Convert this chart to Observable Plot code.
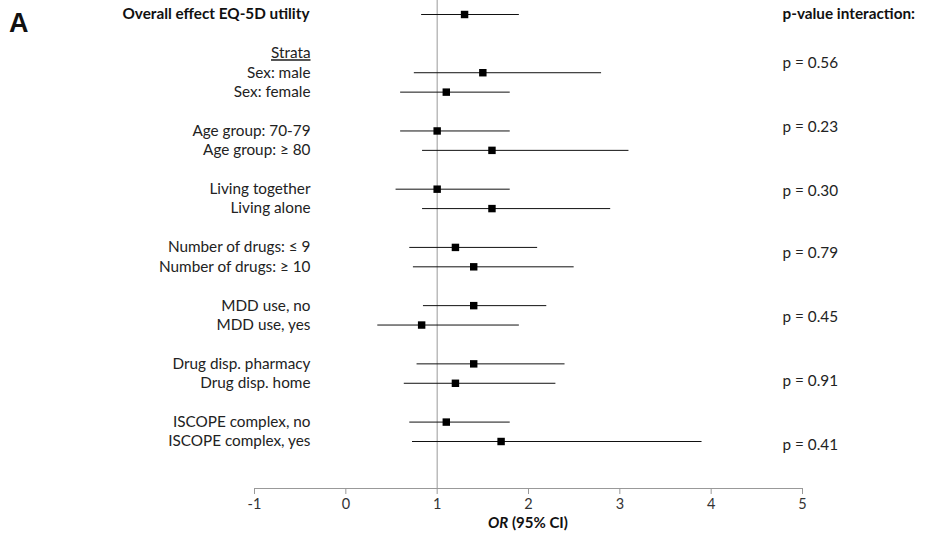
<!DOCTYPE html>
<html><head><meta charset="utf-8">
<script src="https://cdn.jsdelivr.net/npm/d3@7"></script>
<script src="https://cdn.jsdelivr.net/npm/@observablehq/plot@0.6"></script>
<style>
body{margin:0;background:#fff;}
#wrap{position:relative;width:934px;height:536px;}
#A{position:absolute;left:9px;top:8px;font:bold 27px "Liberation Sans",Arial,sans-serif;color:#111;}
</style>
</head><body><div id="wrap"><div id="A">A</div></div>
<script>
const labels = ["Overall effect EQ-5D utility","Strata","Sex: male","Sex: female","Age group: 70-79","Age group: \u2265 80","Living together","Living alone","Number of drugs: \u2264 9","Number of drugs: \u2265 10","MDD use, no","MDD use, yes","Drug disp. pharmacy","Drug disp. home","ISCOPE complex, no","ISCOPE complex, yes"];
const rowPos = [0,2,3,4,6,7,9,10,12,13,15,16,18,19,21,22];
const orValues = [1.3,null,1.5,1.1,1.0,1.6,1.0,1.6,1.2,1.4,1.4,0.83,1.4,1.2,1.1,1.7];
const ciLow = [0.83,null,0.75,0.6,0.6,0.84,0.55,0.84,0.7,0.74,0.85,0.35,0.78,0.64,0.7,0.73];
const ciHigh = [1.9,null,2.8,1.8,1.8,3.1,1.8,2.9,2.1,2.5,2.2,1.9,2.4,2.3,1.8,3.9];
const pLabels = ["p = 0.56","p = 0.23","p = 0.30","p = 0.79","p = 0.45","p = 0.91","p = 0.41"];
const pRows = [2.5,5.8,9.1,12.3,15.6,18.9,22.2];
const pHeader = "p-value interaction:";
const xTicks = [-1,0,1,2,3,4,5];

const rows = labels.map((l,i)=>({label:l,row:rowPos[i],or:orValues[i],lo:ciLow[i],hi:ciHigh[i],bold:i===0}));
const est = rows.filter(d=>d.or!=null);
const pData = pLabels.map((p,i)=>({p,row:pRows[i]}));

const font = "Lato, 'Open Sans', sans-serif";
const chart = Plot.plot({
  width:934, height:536,
  marginLeft:254, marginRight:132, marginTop:0, marginBottom:48,
  style:{fontFamily:font, background:"#fff", color:"#222"},
  x:{domain:[-1,5]},
  y:{domain:[0,22], range:[14,441], axis:null},
  marks:[
    Plot.ruleX([1],{stroke:"#999",strokeWidth:1}),
    Plot.frame({anchor:"bottom", stroke:"#999"}),
    Plot.axisX({ticks:xTicks, tickFormat:d=>String(d), tickSize:6, stroke:"#999", fill:"#333", fontSize:14.5, label:null, tickPadding:4}),
    Plot.ruleY(est,{y:"row",x1:"lo",x2:"hi",stroke:"#111",strokeWidth:1}),
    Plot.dot(est,{y:"row",x:"or",symbol:"square",r:4.2,fill:"#000",stroke:null}),
    Plot.text(rows.filter(d=>!d.bold),{y:"row",text:"label",frameAnchor:"left",dx:56,textAnchor:"end",fontSize:15.3,fill:"#222"}),
    Plot.text(rows.filter(d=>d.bold),{y:"row",text:"label",frameAnchor:"left",dx:55,textAnchor:"end",fontSize:15.3,fontWeight:"bold",fill:"#111"}),
    Plot.text(pData,{y:"row",text:"p",frameAnchor:"right",dx:-20,textAnchor:"start",fontSize:15.3,fill:"#222"}),
    Plot.text([pHeader],{y:[0],text:d=>d,frameAnchor:"right",dx:-20,textAnchor:"start",fontSize:15.3,fontWeight:"bold",fill:"#111"})
  ]
});
const svg = d3.select(chart);
svg.selectAll("text").filter(function(){return this.textContent==="Strata";}).style("text-decoration","underline");
const xs = chart.scale("x");
const t = svg.append("text").attr("x",xs.apply(2)).attr("y",528).attr("text-anchor","middle")
  .attr("font-size",15).attr("font-weight","bold").attr("fill","#111").attr("font-family",font);
t.append("tspan").attr("font-style","italic").text("OR");
t.append("tspan").text(" (95% CI)");
document.getElementById("wrap").appendChild(chart);
</script>
</body></html>
